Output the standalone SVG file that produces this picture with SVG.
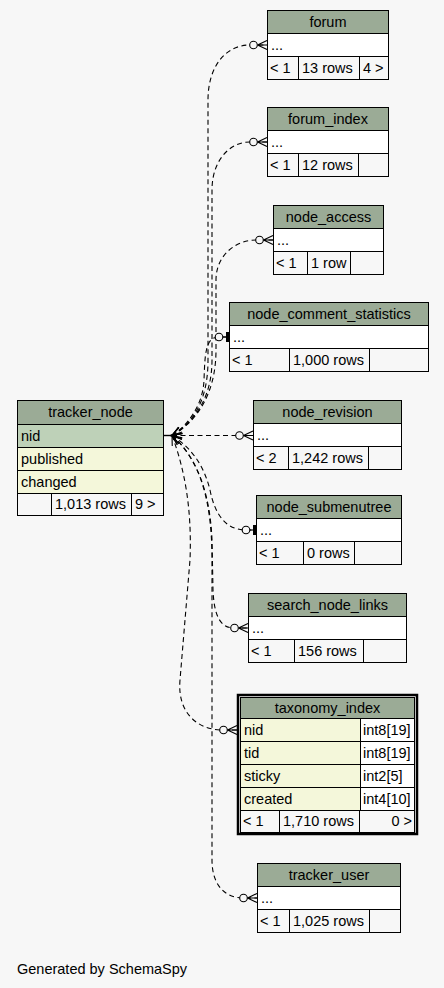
<svg xmlns="http://www.w3.org/2000/svg" width="444" height="988" viewBox="0 0 444 988">
  <style>
    text { font-family: "Liberation Sans", Arial, Helvetica, sans-serif; font-size: 14.5px; fill: #000; }
    .c { text-anchor: middle; }
    .r { text-anchor: end; }
    .cell { stroke: #000; stroke-width: 1; }
    .hd { fill: #9bab96; }
    .pk { fill: #bed1b8; }
    .col { fill: #f4f7da; }
    .wh { fill: #ffffff; }
    .ft { fill: none; }
    .edge { fill: none; stroke: #000; stroke-width: 1.1; stroke-dasharray: 5 3.5; }
    .mk { fill: none; stroke: #000; stroke-width: 1.1; stroke-dasharray: none; }
  </style>
  <defs>
    <!-- zero-or-many end -->
    <marker id="crowodot" markerUnits="userSpaceOnUse" markerWidth="30" markerHeight="20" refX="0" refY="0" orient="auto" overflow="visible">
      <path class="mk" d="M-9.5,0 L0,-4.5 M-9.5,0 L0,4.5 M-9.5,0 H0"/>
      <circle class="mk" cx="-13.5" cy="0" r="3.8" style="fill:#f7f7f7"/>
    </marker>
    <!-- zero-or-one end -->
    <marker id="teeodot" markerUnits="userSpaceOnUse" markerWidth="30" markerHeight="20" refX="0" refY="0" orient="auto" overflow="visible">
      <path class="mk" d="M-6,0 H0"/>
      <path class="mk" d="M-1.5,-5 V5" style="stroke-width:3"/>
      <circle class="mk" cx="-10" cy="0" r="3.8" style="fill:#f7f7f7"/>
    </marker>
    <!-- parent end -->
    <marker id="vee" markerUnits="userSpaceOnUse" markerWidth="20" markerHeight="20" refX="0" refY="0" orient="auto" overflow="visible">
      <path class="mk" d="M10,-3.5 L0,0 L10,3.5"/>
    </marker>
  </defs>

  <rect x="0" y="0" width="444" height="988" fill="#f7f7f7"/>

  <g id="connectors">
    <line x1="163.5" y1="435.5" x2="172" y2="435.5" stroke="#000" stroke-width="1.4"/>
    <path class="edge" marker-start="url(#vee)" marker-end="url(#crowodot)" d="M172,435.5 C195,422 208,398 208,360 L208,100 C208,66 226,45 250,45 L267,45"/>
    <path class="edge" marker-start="url(#vee)" marker-end="url(#crowodot)" d="M172,435.5 C196,421 212,396 212,360 L212,190 C212,160 230,142 250,142 L267,142"/>
    <path class="edge" marker-start="url(#vee)" marker-end="url(#crowodot)" d="M172,435.5 C198,421 216,392 216,350 L216,280 C216,255 236,240 256,240 L273,240"/>
    <path class="edge" marker-start="url(#vee)" marker-end="url(#teeodot)" d="M172,435.5 C188,425 203,405 204,380 C205,355 205,337 219,337 L229,337"/>
    <path class="edge" marker-start="url(#vee)" marker-end="url(#crowodot)" d="M172,435.5 L253,435.5"/>
    <path class="edge" marker-start="url(#vee)" marker-end="url(#teeodot)" d="M172,435.5 C195,450 205,470 210,490 C215,515 226,530 246,530 L256,530"/>
    <path class="edge" marker-start="url(#vee)" marker-end="url(#crowodot)" d="M172,435.5 C195,455 210,490 212,540 L213,590 C214,615 220,628 234,628 L248,628"/>
    <path class="edge" marker-start="url(#vee)" marker-end="url(#crowodot)" d="M172,435.5 C185,470 192,510 190,560 L180,680 C177,715 200,730 222,730 L237,730"/>
    <path class="edge" marker-start="url(#vee)" marker-end="url(#crowodot)" d="M172,435.5 C200,460 212,500 212,560 L212,860 C212,885 225,898 243,898 L257,898"/>
  </g>

  <g id="forum">
    <rect class="cell hd" x="267.5" y="10.5" width="121" height="23"/>
    <rect class="cell wh" x="267.5" y="33.5" width="121" height="23"/>
    <rect class="cell ft" x="267.5" y="56.5" width="31" height="23"/>
    <rect class="cell ft" x="298.5" y="56.5" width="61" height="23"/>
    <rect class="cell ft" x="359.5" y="56.5" width="29" height="23"/>
    <text class="c" x="328" y="27">forum</text>
    <text x="271" y="50">...</text>
    <text x="270" y="73">&lt; 1</text>
    <text x="302" y="73">13 rows</text>
    <text x="363" y="73">4 &gt;</text>
  </g>

  <g id="forum_index">
    <rect class="cell hd" x="267.5" y="107.5" width="121" height="23"/>
    <rect class="cell wh" x="267.5" y="130.5" width="121" height="23"/>
    <rect class="cell ft" x="267.5" y="153.5" width="31" height="23"/>
    <rect class="cell ft" x="298.5" y="153.5" width="60" height="23"/>
    <rect class="cell ft" x="358.5" y="153.5" width="30" height="23"/>
    <text class="c" x="328" y="124">forum_index</text>
    <text x="271" y="147">...</text>
    <text x="270" y="170">&lt; 1</text>
    <text x="302" y="170">12 rows</text>
  </g>

  <g id="node_access">
    <rect class="cell hd" x="273.5" y="205.5" width="110" height="23"/>
    <rect class="cell wh" x="273.5" y="228.5" width="110" height="23"/>
    <rect class="cell ft" x="273.5" y="251.5" width="34" height="23"/>
    <rect class="cell ft" x="307.5" y="251.5" width="43" height="23"/>
    <rect class="cell ft" x="350.5" y="251.5" width="33" height="23"/>
    <text class="c" x="328.5" y="222">node_access</text>
    <text x="277" y="245">...</text>
    <text x="276" y="268">&lt; 1</text>
    <text x="311" y="268">1 row</text>
  </g>

  <g id="node_comment_statistics">
    <rect class="cell hd" x="229.5" y="302.5" width="199" height="23"/>
    <rect class="cell wh" x="229.5" y="325.5" width="199" height="23"/>
    <rect class="cell ft" x="229.5" y="348.5" width="60" height="23"/>
    <rect class="cell ft" x="289.5" y="348.5" width="80" height="23"/>
    <rect class="cell ft" x="369.5" y="348.5" width="59" height="23"/>
    <text class="c" x="329" y="319">node_comment_statistics</text>
    <text x="233" y="342">...</text>
    <text x="232" y="365">&lt; 1</text>
    <text x="293" y="365">1,000 rows</text>
  </g>

  <g id="node_revision">
    <rect class="cell hd" x="253.5" y="400.5" width="148" height="23"/>
    <rect class="cell wh" x="253.5" y="423.5" width="148" height="23"/>
    <rect class="cell ft" x="253.5" y="446.5" width="35" height="23"/>
    <rect class="cell ft" x="288.5" y="446.5" width="80" height="23"/>
    <rect class="cell ft" x="368.5" y="446.5" width="33" height="23"/>
    <text class="c" x="327.5" y="417">node_revision</text>
    <text x="257" y="440">...</text>
    <text x="256" y="463">&lt; 2</text>
    <text x="292" y="463">1,242 rows</text>
  </g>

  <g id="node_submenutree">
    <rect class="cell hd" x="256.5" y="495.5" width="145" height="23"/>
    <rect class="cell wh" x="256.5" y="518.5" width="145" height="23"/>
    <rect class="cell ft" x="256.5" y="541.5" width="47" height="23"/>
    <rect class="cell ft" x="303.5" y="541.5" width="51" height="23"/>
    <rect class="cell ft" x="354.5" y="541.5" width="47" height="23"/>
    <text class="c" x="329" y="512">node_submenutree</text>
    <text x="260" y="535">...</text>
    <text x="259" y="558">&lt; 1</text>
    <text x="307" y="558">0 rows</text>
  </g>

  <g id="search_node_links">
    <rect class="cell hd" x="248.5" y="593.5" width="158" height="23"/>
    <rect class="cell wh" x="248.5" y="616.5" width="158" height="23"/>
    <rect class="cell ft" x="248.5" y="639.5" width="46" height="23"/>
    <rect class="cell ft" x="294.5" y="639.5" width="69" height="23"/>
    <rect class="cell ft" x="363.5" y="639.5" width="43" height="23"/>
    <text class="c" x="327.5" y="610">search_node_links</text>
    <text x="252" y="633">...</text>
    <text x="251" y="656">&lt; 1</text>
    <text x="298" y="656">156 rows</text>
  </g>

  <g id="taxonomy_index">
    <rect x="238" y="695" width="179" height="139" fill="none" stroke="#000" stroke-width="2.5"/>
    <rect class="cell hd" x="240.5" y="697.5" width="174" height="21"/>
    <rect class="cell col" x="240.5" y="718.5" width="120" height="23"/>
    <rect class="cell wh" x="360.5" y="718.5" width="54" height="23"/>
    <rect class="cell col" x="240.5" y="741.5" width="120" height="23"/>
    <rect class="cell wh" x="360.5" y="741.5" width="54" height="23"/>
    <rect class="cell col" x="240.5" y="764.5" width="120" height="23"/>
    <rect class="cell wh" x="360.5" y="764.5" width="54" height="23"/>
    <rect class="cell col" x="240.5" y="787.5" width="120" height="23"/>
    <rect class="cell wh" x="360.5" y="787.5" width="54" height="23"/>
    <rect class="cell ft" x="240.5" y="810.5" width="39" height="22"/>
    <rect class="cell ft" x="279.5" y="810.5" width="80" height="22"/>
    <rect class="cell ft" x="359.5" y="810.5" width="55" height="22"/>
    <text class="c" x="327.5" y="713">taxonomy_index</text>
    <text x="244" y="735">nid</text>
    <text x="363" y="735">int8[19]</text>
    <text x="244" y="758">tid</text>
    <text x="363" y="758">int8[19]</text>
    <text x="244" y="781">sticky</text>
    <text x="363" y="781">int2[5]</text>
    <text x="244" y="804">created</text>
    <text x="363" y="804">int4[10]</text>
    <text x="243" y="826">&lt; 1</text>
    <text x="283" y="826">1,710 rows</text>
    <text class="r" x="412" y="826">0 &gt;</text>
  </g>

  <g id="tracker_user">
    <rect class="cell hd" x="257.5" y="863.5" width="143" height="23"/>
    <rect class="cell wh" x="257.5" y="886.5" width="143" height="23"/>
    <rect class="cell ft" x="257.5" y="909.5" width="32" height="23"/>
    <rect class="cell ft" x="289.5" y="909.5" width="80" height="23"/>
    <rect class="cell ft" x="369.5" y="909.5" width="31" height="23"/>
    <text class="c" x="329" y="880">tracker_user</text>
    <text x="261" y="903">...</text>
    <text x="260" y="926">&lt; 1</text>
    <text x="293" y="926">1,025 rows</text>
  </g>

  <g id="tracker_node">
    <rect class="cell hd" x="17.5" y="400.5" width="146" height="24"/>
    <rect class="cell pk" x="17.5" y="424.5" width="146" height="23"/>
    <rect class="cell col" x="17.5" y="447.5" width="146" height="23"/>
    <rect class="cell col" x="17.5" y="470.5" width="146" height="23"/>
    <rect class="cell ft" x="17.5" y="493.5" width="34" height="22"/>
    <rect class="cell ft" x="51.5" y="493.5" width="80" height="22"/>
    <rect class="cell ft" x="131.5" y="493.5" width="32" height="22"/>
    <text class="c" x="90.5" y="417">tracker_node</text>
    <text x="21" y="441">nid</text>
    <text x="21" y="464">published</text>
    <text x="21" y="487">changed</text>
    <text x="55" y="509">1,013 rows</text>
    <text x="135" y="509">9 &gt;</text>
  </g>

  <text x="17" y="974">Generated by SchemaSpy</text>
</svg>
